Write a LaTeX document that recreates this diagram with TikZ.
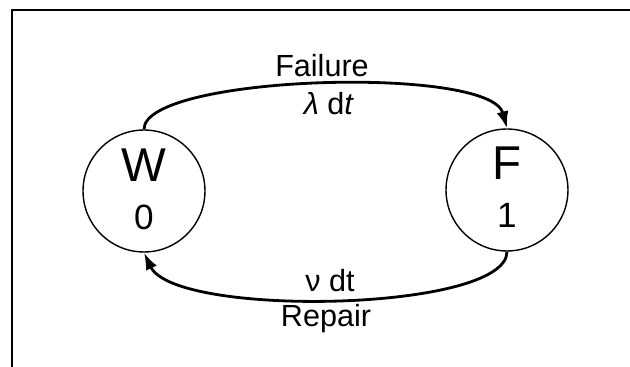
\documentclass[tikz,border=0pt]{standalone}
\usepackage{fontspec}
\setmainfont{Liberation Sans}
\usetikzlibrary{arrows.meta}

\tikzset{
  state/.style={draw, circle, line width=0.8pt, minimum size=2.44cm, inner sep=0pt},
  trans/.style={line width=1.6pt, -{Latex[length=0.34cm,width=0.24cm]}},
  letter/.style={anchor=base, font=\fontsize{27}{30}\selectfont},
  digit/.style={anchor=base, font=\fontsize{20}{24}\selectfont},
  rate/.style={anchor=base, font=\fontsize{17.4}{20}\selectfont}
}

\begin{document}
\begin{tikzpicture}[x=0.02cm, y=-0.02cm]
  \useasboundingbox (0,0) rectangle (630,367);
  % frame
  \draw[line width=1.6pt] (12,367) -- (12,10) -- (630,10);

  % the two states
  \node[state] (w) at (144,191) {};
  \node[letter] (wname) at (144,182) {W};
  \node[digit] (wnum) at (144,230) {0};

  \node[state] (f) at (507,190) {};
  \node[letter] (fname) at (507,180) {F};
  \node[digit] (fnum) at (507,228) {1};

  % failure and repair
  \draw[trans] (w.north) .. controls (144,75) and (490,65) .. (f.north);
  \draw[trans] (f.south) .. controls (507,312) and (175,318) .. (w.south);

  \node[rate] (fail) at (322,77) {Failure};
  \node[rate] (lam) at (329,115) {\textit{λ} d\textit{t}};
  \node[rate] (nu) at (330,292) {ν dt};
  \node[rate] (rep) at (326,327) {Repair};
\end{tikzpicture}
\end{document}
